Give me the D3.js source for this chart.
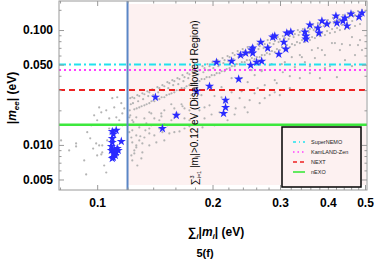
<!DOCTYPE html>
<html>
<head>
<meta charset="utf-8">
<script src="https://cdn.jsdelivr.net/npm/d3@7"></script>
<style>
body { margin: 0; background: #fff; }
svg { display: block; font-family: 'Liberation Sans', Arial, sans-serif; }
</style>
</head>
<body>
<svg id="chart"></svg>
<script>
// scan points [sum |m_i| (eV), |m_ee| (eV)]
const grayPoints = [
    // upper dense band
    [0.1220,0.0255],[0.1224,0.0226],[0.1216,0.0200],[0.1235,0.0260],[0.1240,0.0231],
    [0.1273,0.0271],[0.1279,0.0240],[0.1268,0.0208],[0.1312,0.0281],[0.1318,0.0250],[0.1306,0.0217],
    [0.1352,0.0293],[0.1359,0.0266],[0.1346,0.0226],[0.1393,0.0305],[0.1400,0.0271],[0.1386,0.0240],
    [0.1436,0.0318],[0.1443,0.0287],[0.1429,0.0250],[0.1480,0.0331],[0.1488,0.0299],[0.1473,0.0260],
    [0.1525,0.0352],[0.1533,0.0312],[0.1517,0.0271],[0.1571,0.0366],[0.1579,0.0331],[0.1563,0.0281],
    [0.1620,0.0381],[0.1628,0.0338],[0.1612,0.0299],[0.1670,0.0405],[0.1679,0.0359],[0.1661,0.0312],
    [0.1720,0.0421],[0.1729,0.0381],[0.1711,0.0324],[0.1773,0.0438],[0.1782,0.0397],[0.1764,0.0338],
    [0.1827,0.0466],[0.1836,0.0412],[0.1818,0.0359],[0.1883,0.0485],[0.1893,0.0429],[0.1873,0.0374],
    [0.1940,0.0505],[0.1950,0.0447],[0.1930,0.0389],[0.2000,0.0525],[0.2010,0.0466],[0.1990,0.0405],
    [0.2061,0.0547],[0.2072,0.0485],[0.2050,0.0421],[0.2124,0.0570],[0.2135,0.0515],[0.2113,0.0438],
    [0.2189,0.0593],[0.2200,0.0536],[0.2178,0.0457],[0.2257,0.0630],[0.2268,0.0558],[0.2246,0.0485],
    [0.2326,0.0656],[0.2338,0.0581],[0.2314,0.0505],[0.2397,0.0683],[0.2409,0.0605],[0.2385,0.0525],
    [0.2470,0.0711],[0.2482,0.0630],[0.2458,0.0547],[0.2546,0.0725],[0.2559,0.0656],[0.2533,0.0570],
    [0.2623,0.0755],[0.2636,0.0683],[0.2610,0.0581],[0.2704,0.0785],[0.2718,0.0697],[0.2690,0.0605],
    [0.2786,0.0818],[0.2800,0.0725],[0.2772,0.0630],[0.2872,0.0834],[0.2886,0.0755],[0.2858,0.0656],
    [0.2960,0.0868],[0.2975,0.0785],[0.2945,0.0683],[0.3051,0.0886],[0.3066,0.0818],[0.3036,0.0711],
    [0.3144,0.0923],[0.3160,0.0834],[0.3128,0.0740],[0.3240,0.0961],[0.3256,0.0868],[0.3224,0.0755],
    [0.3339,0.1000],[0.3356,0.0904],[0.3322,0.0785],[0.3442,0.1020],[0.3459,0.0923],[0.3425,0.0818],
    [0.3547,0.1041],[0.3565,0.0961],[0.3529,0.0851],[0.3656,0.1106],[0.3674,0.1000],[0.3638,0.0868],
    [0.3767,0.1151],[0.3786,0.1041],[0.3748,0.0904],[0.3883,0.1175],[0.3902,0.1084],[0.3864,0.0941],
    [0.4001,0.1223],[0.4021,0.1128],[0.3981,0.0980],[0.4124,0.1274],[0.4145,0.1151],[0.4103,0.1020],
    [0.4248,0.1299],[0.4269,0.1199],[0.4227,0.1041],[0.4379,0.1352],[0.4401,0.1223],[0.4357,0.1106],
    [0.4513,0.1380],[0.4536,0.1274],[0.4490,0.1151],[0.4652,0.1436],[0.4675,0.1325],[0.4629,0.1199],
    [0.4794,0.1465],[0.4818,0.1352],[0.4770,0.1248],[0.4910,0.1495],[0.4935,0.1380],
    // band, in-between columns
    [0.1250,0.0255],[0.1250,0.0204],[0.1288,0.0266],[0.1288,0.0212],[0.1328,0.0276],[0.1328,0.0221],
    [0.1368,0.0287],[0.1368,0.0231],[0.1410,0.0299],[0.1410,0.0240],[0.1453,0.0312],[0.1453,0.0250],
    [0.1497,0.0324],[0.1497,0.0260],[0.1543,0.0345],[0.1543,0.0276],[0.1590,0.0359],[0.1590,0.0287],
    [0.1640,0.0374],[0.1640,0.0299],[0.1690,0.0389],[0.1690,0.0312],[0.1741,0.0412],[0.1741,0.0331],
    [0.1795,0.0429],[0.1795,0.0345],[0.1849,0.0447],[0.1849,0.0359],[0.1906,0.0466],[0.1906,0.0374],
    [0.1964,0.0485],[0.1964,0.0389],[0.2024,0.0505],[0.2024,0.0405],[0.2086,0.0525],[0.2086,0.0421],
    [0.2150,0.0547],[0.2150,0.0438],[0.2216,0.0581],[0.2216,0.0466],[0.2284,0.0605],[0.2284,0.0485],
    [0.2354,0.0630],[0.2354,0.0505],[0.2426,0.0656],[0.2426,0.0525],[0.2500,0.0683],[0.2500,0.0547],
    [0.2576,0.0697],[0.2576,0.0558],[0.2655,0.0725],[0.2655,0.0581],[0.2737,0.0755],[0.2737,0.0605],
    [0.2820,0.0770],[0.2820,0.0617],[0.2907,0.0801],[0.2907,0.0643],[0.2996,0.0834],[0.2996,0.0669],
    [0.3088,0.0851],[0.3088,0.0683],[0.3182,0.0886],[0.3182,0.0711],[0.3280,0.0923],[0.3280,0.0740],
    [0.3380,0.0961],[0.3380,0.0770],[0.3484,0.0980],[0.3484,0.0785],[0.3590,0.1020],[0.3590,0.0818],
    [0.3700,0.1041],[0.3700,0.0851],[0.3813,0.1106],[0.3813,0.0886],[0.3929,0.1128],[0.3929,0.0904],
    [0.4050,0.1175],[0.4050,0.0941],[0.4173,0.1199],[0.4173,0.0961],[0.4300,0.1248],[0.4300,0.1000],
    [0.4433,0.1274],[0.4433,0.1020],[0.4568,0.1325],[0.4568,0.1041],[0.4708,0.1352],[0.4708,0.1084],
    [0.4852,0.1408],[0.4852,0.1128],
    // band, lower fringe
    [0.1384,0.0188],[0.1470,0.0188],[0.1561,0.0226],[0.1660,0.0226],[0.1762,0.0271],[0.1871,0.0271],
    [0.1988,0.0318],[0.2111,0.0318],[0.2243,0.0381],[0.2382,0.0381],[0.2530,0.0447],[0.2687,0.0438],
    [0.2854,0.0505],[0.3032,0.0505],[0.3220,0.0581],[0.3421,0.0581],[0.3633,0.0669],[0.3859,0.0669],
    [0.4099,0.0770],[0.4352,0.0755],[0.4623,0.0868],
    // scatter below the band, 0.12 - 0.19 eV
    [0.1220,0.0181],[0.1243,0.0158],[0.1265,0.0174],[0.1235,0.0134],[0.1213,0.0129],[0.1228,0.0116],
    [0.1265,0.0121],[0.1235,0.01052],[0.1288,0.01095],[0.1328,0.0116],[0.1368,0.0126],[0.1410,0.0121],
    [0.1480,0.0129],[0.1543,0.0126],[0.1590,0.0129],[0.1640,0.0131],[0.1228,0.0081],[0.1250,0.00895],
    [0.1265,0.0099],[0.1288,0.0142],[0.1344,0.0154],[0.1235,0.0164],[0.1213,0.0174],[0.1336,0.0134],
    [0.1296,0.0119],[0.1312,0.0103],[0.1265,0.0095],[0.1250,0.00843],[0.1235,0.00732],[0.1312,0.0086],
    [0.1273,0.00662],[0.1304,0.00763],[0.1368,0.0099],[0.1427,0.01052],[0.1497,0.01095],[0.1453,0.0139],
    [0.1525,0.0148],[0.1410,0.0170],[0.1368,0.0192],[0.1471,0.0177],[0.1562,0.0164],[0.1620,0.0188],
    [0.1690,0.0170],[0.1741,0.0145],[0.1670,0.0217],[0.1590,0.0208],[0.1497,0.0200],
    [0.1328,0.0170],[0.1384,0.0148],[0.1453,0.0164],[0.1590,0.0174],[0.1690,0.0208],[0.1368,0.0139],
    [0.1497,0.0151],[0.1741,0.0164],
    // scatter 0.18 - 0.27 eV
    [0.1795,0.0245],[0.1849,0.0200],[0.1906,0.0170],[0.1964,0.0221],[0.2024,0.0266],[0.2086,0.0192],
    [0.2150,0.0235],[0.2189,0.0164],[0.2243,0.0287],[0.2298,0.0208],[0.2354,0.0255],[0.2426,0.0212],
    [0.2500,0.0245],[0.2576,0.0281],[0.2655,0.0231],[0.1883,0.0142],[0.1741,0.0200],[0.2024,0.0148],
    [0.1690,0.0139],[0.1827,0.0287],[0.1795,0.0177],[0.1906,0.0212],[0.1988,0.0184],[0.2111,0.0260],
    [0.2284,0.0184],[0.2383,0.0293],[0.2470,0.0192],[0.2623,0.0312],
    // scatter 0.25 - 0.5 eV
    [0.2737,0.0331],[0.2820,0.0271],[0.2907,0.0366],[0.2942,0.0345],[0.3051,0.0429],[0.3182,0.0312],
    [0.3280,0.0475],[0.3380,0.0381],[0.3484,0.0525],[0.3590,0.0421],[0.3700,0.0570],[0.3813,0.0381],
    [0.3929,0.0605],[0.4050,0.0485],[0.4223,0.0389],[0.4300,0.0669],[0.4433,0.0547],[0.4568,0.0740],
    [0.4708,0.0605],[0.4852,0.0818],[0.4910,0.0669],[0.3088,0.0525],[0.3380,0.0605],[0.3767,0.0697],
    [0.4173,0.0770],[0.2576,0.0405],[0.2687,0.0447],[0.2470,0.0352],[0.2820,0.0495],[0.2996,0.0271],
    [0.2737,0.0255],[0.2907,0.0287],[0.3182,0.0397],[0.3590,0.0485],[0.3929,0.0466],[0.4623,0.0485],
    [0.4794,0.0740],
    // left of the 0.12 eV bound
    [0.0881,0.0103],[0.0881,0.0097],[0.0936,0.00553],[0.0994,0.0103],[0.1012,0.0099],[0.1000,0.0081],
    [0.1031,0.0099],[0.1025,0.00826],[0.1043,0.00662],[0.1056,0.00575],[0.0942,0.0129],[0.0959,0.0114],
    [0.0976,0.0093],[0.1031,0.0086],[0.1025,0.0192],[0.0982,0.0181],[0.1012,0.0212],[0.1095,0.0255],
    [0.1128,0.0260],[0.1056,0.0200],[0.1108,0.0212],[0.1000,0.0164],[0.1075,0.0170],[0.1156,0.0231],
    [0.1163,0.0188],[0.1122,0.0174],[0.1163,0.0148],[0.0805,0.01095],[0.0845,0.00895],[0.0925,0.00732],
    [0.0965,0.0148],[0.1075,0.0139],[0.1062,0.01095],[0.1142,0.0164],[0.1177,0.0208]
]

const starPoints = [
    [0.1095,0.0131],[0.1121,0.0134],[0.1095,0.0114],[0.1095,0.01052],[0.1089,0.0097],[0.1089,0.00895],
    [0.1102,0.00843],[0.1121,0.0086],[0.1135,0.00895],[0.1115,0.0081],[0.1102,0.00778],[0.1095,0.00763],
    [0.1156,0.01073],[0.1128,0.0093],[0.1108,0.0091],[0.1102,0.0124],
    [0.1419,0.0260],[0.1609,0.0181],[0.1480,0.0139],[0.1817,0.0293],[0.1964,0.0324],[0.2048,0.0525],
    [0.2243,0.0536],[0.2163,0.0245],[0.2163,0.0212],[0.2137,0.0188],[0.2340,0.0374],[0.2368,0.0605],
    [0.2441,0.0630],[0.2530,0.0669],[0.2546,0.0630],[0.2546,0.0697],[0.2515,0.0495],[0.2607,0.0525],
    [0.2687,0.0536],[0.2671,0.0785],[0.2786,0.0697],[0.2872,0.0868],[0.2907,0.0886],[0.2978,0.0617],
    [0.3070,0.0785],[0.3107,0.0683],[0.3125,0.0941],[0.3201,0.0961],[0.3484,0.0961],[0.3505,0.0886],
    [0.3505,0.0834],[0.3590,0.1106],[0.3767,0.1041],[0.3790,0.0941],[0.3859,0.1199],[0.3977,0.1128],
    [0.4198,0.1325],[0.4223,0.1151],[0.4379,0.1199],[0.4433,0.1274],[0.4486,0.1084],[0.4596,0.1380],
    [0.4823,0.1299],[0.4910,0.1408]
]

const experiments = ['SuperNEMO', 'KamLAND-Zen', 'NEXT', 'nEXO']
const expBounds = [0.050, 0.045, 0.030, 0.015]
const expColors = ['#22e2ee', '#ff40ff', '#ee2222', '#3de83d']
const expDash = ['7,3,2,3', '2,3', '6,4', null]
const expWidth = [2, 2, 2, 2.5]

const sumBound = 0.12
const xTicks = [0.1, 0.2, 0.3, 0.4, 0.5]
const xMinorTicks = [0.08, 0.12, 0.14, 0.16, 0.18, 0.22, 0.24, 0.26, 0.28, 0.32, 0.34, 0.36, 0.38, 0.42, 0.44, 0.46, 0.48]
const yTicks = [0.005, 0.01, 0.05, 0.1]
const yMinorTicks = [0.006, 0.007, 0.008, 0.009, 0.02, 0.03, 0.04, 0.06, 0.07, 0.08, 0.09, 0.15]

const width = 374, height = 261
const margin = { top: 1, right: 7, bottom: 71, left: 59 }
const plotW = width - margin.left - margin.right
const plotH = height - margin.top - margin.bottom
const frameColor = '#999'

const svg = d3.select('#chart')
    .attr('width', width)
    .attr('height', height)

const x = d3.scaleLog().domain([0.0795, 0.506]).range([0, plotW])
const y = d3.scaleLog().domain([0.00405, 0.179]).range([plotH, 0])

const g = svg.append('g')
    .attr('transform', `translate(${margin.left}, ${margin.top})`)

g.append('clipPath').attr('id', 'clip')
    .append('rect').attr('width', plotW).attr('height', plotH)

// disallowed region
g.append('rect')
    .attr('x', x(sumBound))
    .attr('y', 3)
    .attr('width', plotW - 1 - x(sumBound))
    .attr('height', plotH - 8)
    .attr('fill', '#fdf1f1')

const plot = g.append('g').attr('clip-path', 'url(#clip)')

plot.selectAll('.scan')
    .data(grayPoints)
    .join('circle')
    .attr('class', 'scan')
    .attr('cx', d => x(d[0]))
    .attr('cy', d => y(d[1]))
    .attr('r', 1.1)
    .attr('fill', '#b4b4b4')

// experimental sensitivities
plot.selectAll('.exp')
    .data(expBounds)
    .join('line')
    .attr('class', 'exp')
    .attr('x1', 0)
    .attr('x2', plotW)
    .attr('y1', d => y(d))
    .attr('y2', d => y(d))
    .attr('stroke', (d, i) => expColors[i])
    .attr('stroke-width', (d, i) => expWidth[i])
    .attr('stroke-dasharray', (d, i) => expDash[i])

plot.selectAll('.star')
    .data(starPoints)
    .join('path')
    .attr('class', 'star')
    .attr('d', d3.symbol(d3.symbolStar).size(26))
    .attr('transform', d => `translate(${x(d[0])}, ${y(d[1])})`)
    .attr('fill', '#2b2bff')

plot.append('line')
    .attr('x1', x(sumBound))
    .attr('x2', x(sumBound))
    .attr('y1', 0)
    .attr('y2', plotH)
    .attr('stroke', '#5a86c6')
    .attr('stroke-width', 2)

// rotated note
const note = g.append('text')
    .attr('transform', `translate(${x(sumBound) + 70}, 102) rotate(-90)`)
    .attr('text-anchor', 'middle')
    .attr('font-size', 10)
    .attr('fill', '#000')
note.append('tspan').text('\u2211')
note.append('tspan').attr('font-size', 5.5).attr('dy', -4).text('3')
note.append('tspan').attr('font-size', 5.5).attr('dx', -3).attr('dy', 7).text('i=1')
note.append('tspan').attr('dy', -3).text(' |m')
note.append('tspan').attr('font-size', 6.5).attr('dy', 2).text('i')
note.append('tspan').attr('dy', -2).text('|>0.12 eV (Disallowed Region)')

// frame and ticks
function styleAxis(sel) {
    sel.select('.domain').remove()
    sel.selectAll('.tick line').attr('stroke', frameColor)
    sel.selectAll('.tick text')
        .attr('font-size', 12)
        .attr('font-weight', 'bold')
        .attr('fill', '#000')
        .attr('font-family', "'Liberation Sans', Arial, sans-serif")
}

g.append('g')
    .attr('transform', `translate(0, ${plotH})`)
    .call(d3.axisBottom(x).tickValues(xTicks).tickFormat(d3.format('.1f')).tickSize(-5).tickPadding(8))
    .call(styleAxis)
g.append('g')
    .attr('transform', `translate(0, ${plotH})`)
    .call(d3.axisBottom(x).tickValues(xMinorTicks).tickFormat('').tickSize(-2.5))
    .call(styleAxis)
g.append('g')
    .call(d3.axisTop(x).tickValues(xTicks).tickFormat('').tickSize(-5))
    .call(styleAxis)
g.append('g')
    .call(d3.axisTop(x).tickValues(xMinorTicks).tickFormat('').tickSize(-2.5))
    .call(styleAxis)

g.append('g')
    .call(d3.axisLeft(y).tickValues(yTicks).tickFormat(d3.format('.3f')).tickSize(-5).tickPadding(6))
    .call(styleAxis)
g.append('g')
    .call(d3.axisLeft(y).tickValues(yMinorTicks).tickFormat('').tickSize(-2.5))
    .call(styleAxis)
g.append('g')
    .attr('transform', `translate(${plotW}, 0)`)
    .call(d3.axisRight(y).tickValues(yTicks).tickFormat('').tickSize(-5))
    .call(styleAxis)
g.append('g')
    .attr('transform', `translate(${plotW}, 0)`)
    .call(d3.axisRight(y).tickValues(yMinorTicks).tickFormat('').tickSize(-2.5))
    .call(styleAxis)

g.append('rect')
    .attr('width', plotW)
    .attr('height', plotH)
    .attr('fill', 'none')
    .attr('stroke', frameColor)
    .attr('stroke-width', 1)

// legend
const legend = g.append('g')
    .attr('transform', `translate(223, 126)`)
legend.append('rect')
    .attr('width', 79)
    .attr('height', 60)
    .attr('fill', '#fdf1f1')
    .attr('stroke', '#000')
    .attr('stroke-width', 1.5)
experiments.forEach((name, i) => {
    const row = legend.append('g').attr('transform', `translate(0, ${15 + i * 10})`)
    row.append('line')
        .attr('x1', 11).attr('x2', 23)
        .attr('stroke', expColors[i])
        .attr('stroke-width', 1.6)
        .attr('stroke-dasharray', i === 0 ? '3,3,1,3' : i === 1 ? '1.5,3' : i === 2 ? '4,3' : null)
    row.append('text')
        .attr('x', 29)
        .attr('dy', '0.35em')
        .attr('font-size', 5.5)
        .attr('fill', '#222')
        .text(name)
})

// axis titles
const yTitle = svg.append('text')
    .attr('transform', `translate(16, 98) rotate(-90)`)
    .attr('text-anchor', 'middle')
    .attr('font-size', 12)
    .attr('font-weight', 'bold')
yTitle.append('tspan').text('|')
yTitle.append('tspan').attr('font-style', 'italic').text('m')
yTitle.append('tspan').attr('font-size', 8).attr('font-style', 'italic').attr('dy', 3).text('ee')
yTitle.append('tspan').attr('dy', -3).text('| (eV)')

const xTitle = svg.append('text')
    .attr('x', 216)
    .attr('y', 236)
    .attr('text-anchor', 'middle')
    .attr('font-size', 12)
    .attr('font-weight', 'bold')
xTitle.append('tspan').text('\u2211')
xTitle.append('tspan').attr('font-size', 8).attr('font-style', 'italic').attr('dy', 3).text('i')
xTitle.append('tspan').attr('dy', -3).text('|')
xTitle.append('tspan').attr('font-style', 'italic').text('m')
xTitle.append('tspan').attr('font-size', 8).attr('font-style', 'italic').attr('dy', 3).text('i')
xTitle.append('tspan').attr('dy', -3).text('| (eV)')

svg.append('text')
    .attr('x', 205)
    .attr('y', 257)
    .attr('text-anchor', 'middle')
    .attr('font-size', 11)
    .attr('font-weight', 'bold')
    .text('5(f)')
</script>
</body>
</html>
